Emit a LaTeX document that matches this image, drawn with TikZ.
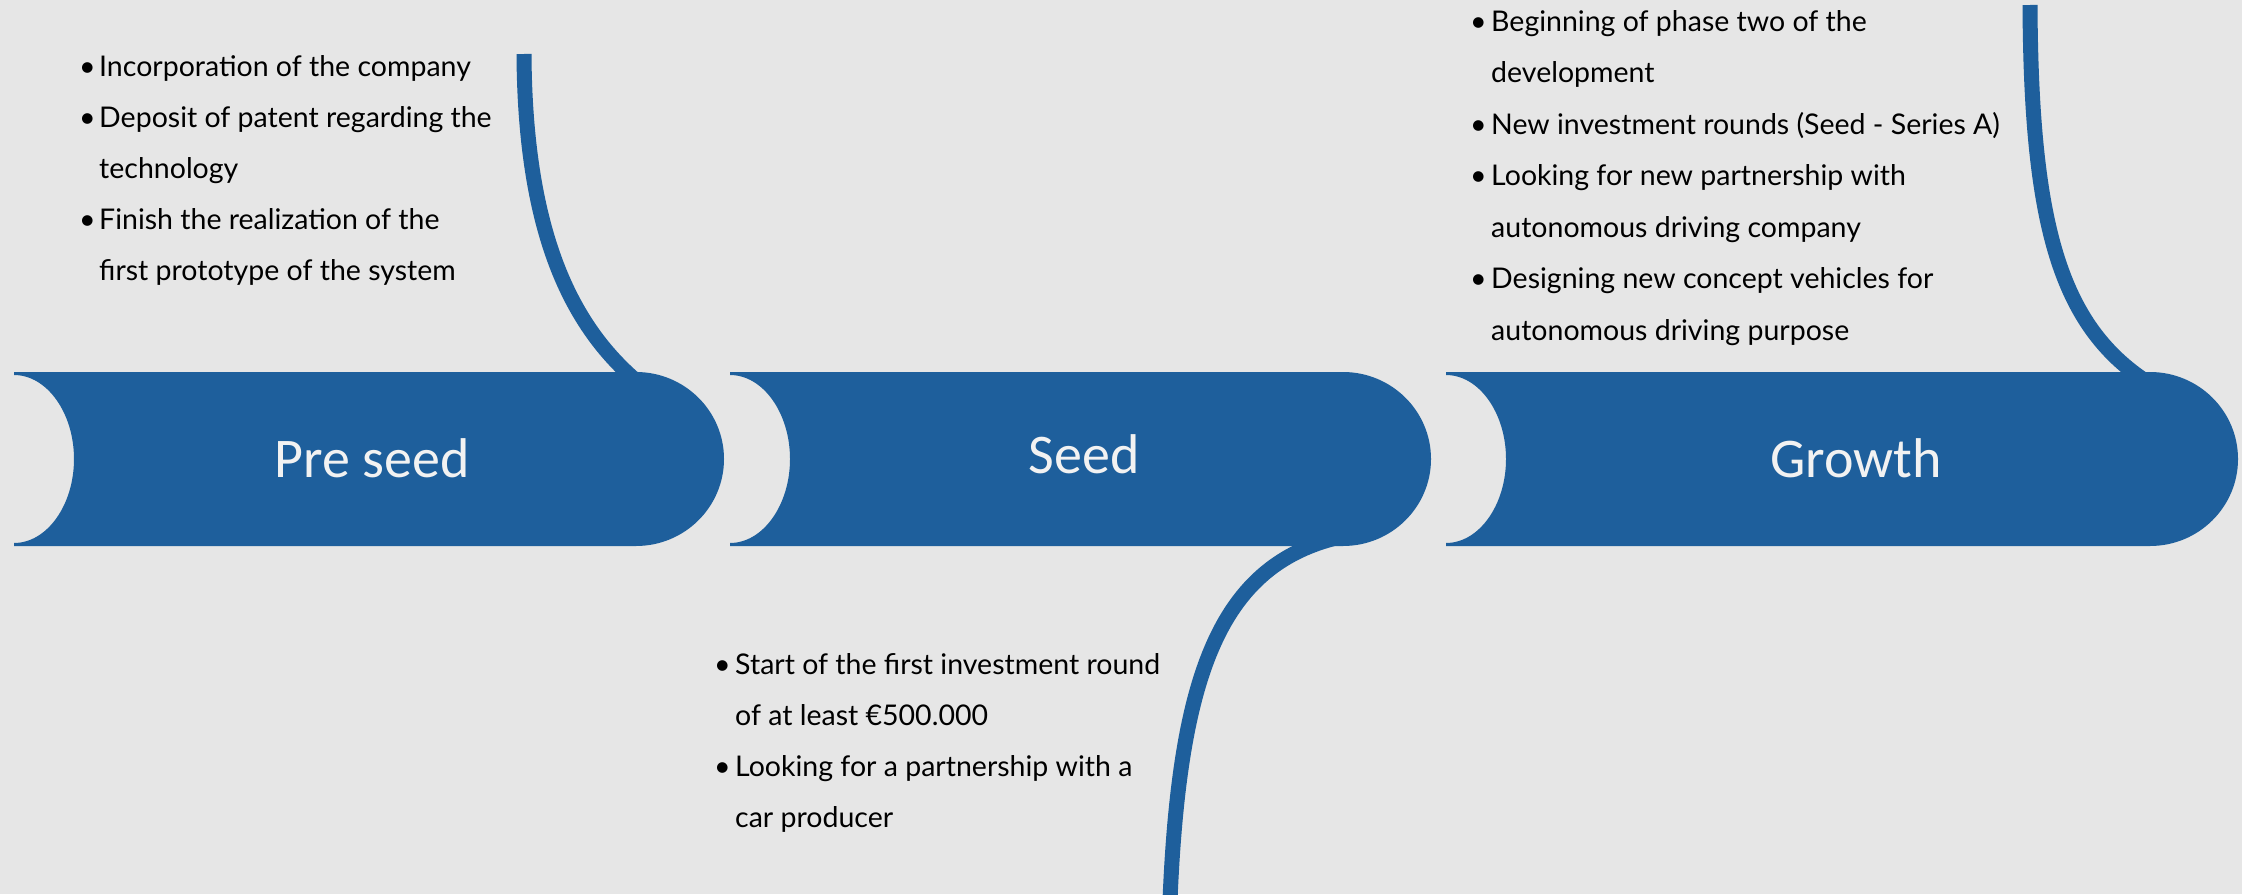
\documentclass[tikz,border=0pt]{standalone}
\usepackage{fontspec}
\newfontfamily\bodyfont{Lato}
\newfontfamily\labelfont{Carlito}
\definecolor{bannerblue}{RGB}{30,95,156}
\definecolor{bgc}{RGB}{230,230,230}
\definecolor{lblc}{RGB}{242,242,242}
\tikzset{
  band/.style={fill=bannerblue, draw=none},
  stem/.style={draw=bannerblue, line width=15pt},
  itemtext/.style={anchor=base west, inner sep=0pt, font=\bodyfont\fontsize{28.5}{32}\selectfont, text=black},
  lbl/.style={anchor=base, inner sep=0pt, font=\labelfont\fontsize{56}{60}\selectfont, text=lblc},
}
\newcommand{\drawbanner}[2]{%
  \fill[band] (#1,372) -- ({#2-88},372)
    .. controls ({#2-88+48.6},372) and (#2,{459-48}) .. (#2,459)
    .. controls (#2,{459+48}) and ({#2-88+48.6},546) .. ({#2-88},546)
    -- (#1,546) -- (#1,543)
    .. controls ({#1+33},543) and ({#1+60},{459+46}) .. ({#1+60},459)
    .. controls ({#1+60},{459-46}) and ({#1+33},375) .. (#1,375) -- cycle;
}
\newcommand{\itemline}[4]{\node[itemtext] (#1) at (#2,#3) {#4};}
\begin{document}
\begin{tikzpicture}[x=1pt,y=-1pt]
\fill[bgc] (0,0) rectangle (2242,894);
\useasboundingbox (0,0) rectangle (2242,894);

% stems (connectors)
\coordinate (s1top) at (524,54);
\coordinate (s1end) at (640,384);
\coordinate (s2start) at (1370,532);
\coordinate (s2bot) at (1170,900);
\coordinate (s3top) at (2030,5);
\coordinate (s3end) at (2147,382);
\draw[stem] (s1top) .. controls (525,240) and (575,330) .. (s1end);
\draw[stem] (s2start) .. controls (1225,548) and (1180,660) .. (s2bot);
\draw[stem] (s3top) .. controls (2031,225) and (2060,325) .. (s3end);

% banners
\drawbanner{14}{724}
\drawbanner{730}{1431}
\drawbanner{1446}{2238}

\node[lbl] (preseed) at (372,477) {Pre seed};
\node[lbl] (seed) at (1084,473) {Seed};
\node[lbl] (growth) at (1856,477) {Growth};

% block 1
\itemline{b1a}{79}{76}{•}
\itemline{t1a}{99}{76}{Incorporation of the company}
\itemline{b1b}{79}{127}{•}
\itemline{t1b}{99}{127}{Deposit of patent regarding the}
\itemline{t1c}{99}{178}{technology}
\itemline{b1d}{79}{229}{•}
\itemline{t1d}{99}{229}{Finish the realization of the}
\itemline{t1e}{99}{280}{first prototype of the system}

% block 2
\itemline{b2a}{714}{674}{•}
\itemline{t2a}{735}{674}{Start of the first investment round}
\itemline{t2b}{735}{725}{of at least €500.000}
\itemline{b2c}{714}{776}{•}
\itemline{t2c}{735}{776}{Looking for a partnership with a}
\itemline{t2d}{735}{827}{car producer}

% block 3
\itemline{b3a}{1470}{31}{•}
\itemline{t3a}{1491}{31}{Beginning of phase two of the}
\itemline{t3b}{1491}{82.5}{development}
\itemline{b3c}{1470}{134}{•}
\itemline{t3c}{1491}{134}{New investment rounds (Seed - Series A)}
\itemline{b3d}{1470}{185.5}{•}
\itemline{t3d}{1491}{185.5}{Looking for new partnership with}
\itemline{t3e}{1491}{237}{autonomous driving company}
\itemline{b3f}{1470}{288.5}{•}
\itemline{t3f}{1491}{288.5}{Designing new concept vehicles for}
\itemline{t3g}{1491}{340}{autonomous driving purpose}
\end{tikzpicture}
\end{document}
